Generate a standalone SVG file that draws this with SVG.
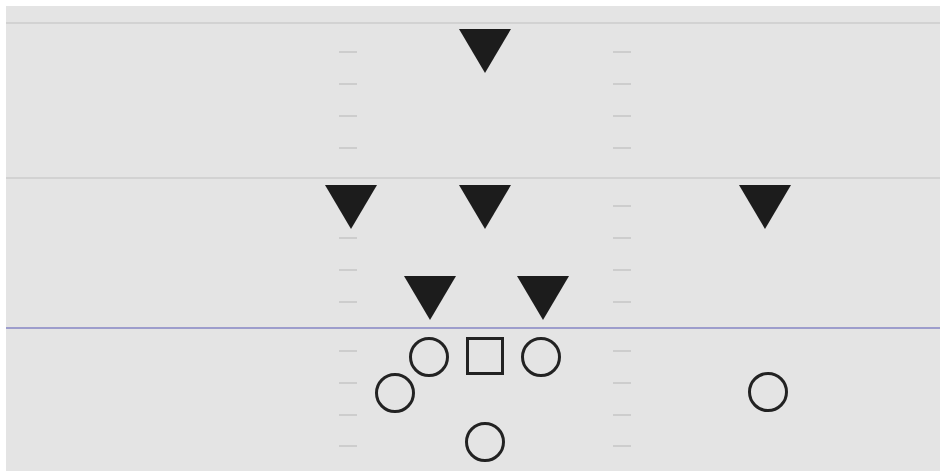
<svg xmlns="http://www.w3.org/2000/svg" width="940" height="471" viewBox="0 0 940 471">
<style>
.hash{stroke:#cdcdcd;stroke-width:2}
.yl{stroke:#d2d2d2;stroke-width:2}
.def{fill:#1c1c1c}
.off{fill:none;stroke:#222;stroke-width:3}
</style>
<defs>
<polygon id="tri" points="-26,0 26,0 0,44"/>
</defs>
<rect x="0" y="0" width="940" height="471" fill="#ffffff"/>
<rect x="6" y="6" width="934" height="465" fill="#e4e4e4"/>
<g id="field">
<line class="yl" x1="6" y1="23" x2="940" y2="23"/>
<line class="yl" x1="6" y1="178" x2="940" y2="178"/>
<line x1="6" y1="328" x2="940" y2="328" stroke="#9d9dcc" stroke-width="2"/>
<g id="hashes">
<line class="hash" x1="339" y1="52" x2="357" y2="52"/>
<line class="hash" x1="339" y1="84" x2="357" y2="84"/>
<line class="hash" x1="339" y1="116" x2="357" y2="116"/>
<line class="hash" x1="339" y1="148" x2="357" y2="148"/>
<line class="hash" x1="339" y1="238" x2="357" y2="238"/>
<line class="hash" x1="339" y1="270" x2="357" y2="270"/>
<line class="hash" x1="339" y1="302" x2="357" y2="302"/>
<line class="hash" x1="339" y1="351" x2="357" y2="351"/>
<line class="hash" x1="339" y1="383" x2="357" y2="383"/>
<line class="hash" x1="339" y1="415" x2="357" y2="415"/>
<line class="hash" x1="339" y1="446" x2="357" y2="446"/>
<line class="hash" x1="613" y1="52" x2="631" y2="52"/>
<line class="hash" x1="613" y1="84" x2="631" y2="84"/>
<line class="hash" x1="613" y1="116" x2="631" y2="116"/>
<line class="hash" x1="613" y1="148" x2="631" y2="148"/>
<line class="hash" x1="613" y1="206" x2="631" y2="206"/>
<line class="hash" x1="613" y1="238" x2="631" y2="238"/>
<line class="hash" x1="613" y1="270" x2="631" y2="270"/>
<line class="hash" x1="613" y1="302" x2="631" y2="302"/>
<line class="hash" x1="613" y1="351" x2="631" y2="351"/>
<line class="hash" x1="613" y1="383" x2="631" y2="383"/>
<line class="hash" x1="613" y1="415" x2="631" y2="415"/>
<line class="hash" x1="613" y1="446" x2="631" y2="446"/>
</g>
</g>
<g id="d1"><use href="#tri" class="def" x="485" y="29"/></g>
<g id="d2"><use href="#tri" class="def" x="351" y="185"/></g>
<g id="d3"><use href="#tri" class="def" x="485" y="185"/></g>
<g id="d4"><use href="#tri" class="def" x="765" y="185"/></g>
<g id="d5"><use href="#tri" class="def" x="430" y="276"/></g>
<g id="d6"><use href="#tri" class="def" x="543" y="276"/></g>
<g id="o1"><circle class="off" cx="429" cy="357" r="18.5"/></g>
<g id="c"><rect class="off" x="467.5" y="338.5" width="35" height="35"/></g>
<g id="o2"><circle class="off" cx="541" cy="357" r="18.5"/></g>
<g id="o3"><circle class="off" cx="395" cy="393" r="18.5"/></g>
<g id="o4"><circle class="off" cx="485" cy="442" r="18.5"/></g>
<g id="o5"><circle class="off" cx="768" cy="392" r="18.5"/></g>
<g id="connectors"></g>
</svg>
